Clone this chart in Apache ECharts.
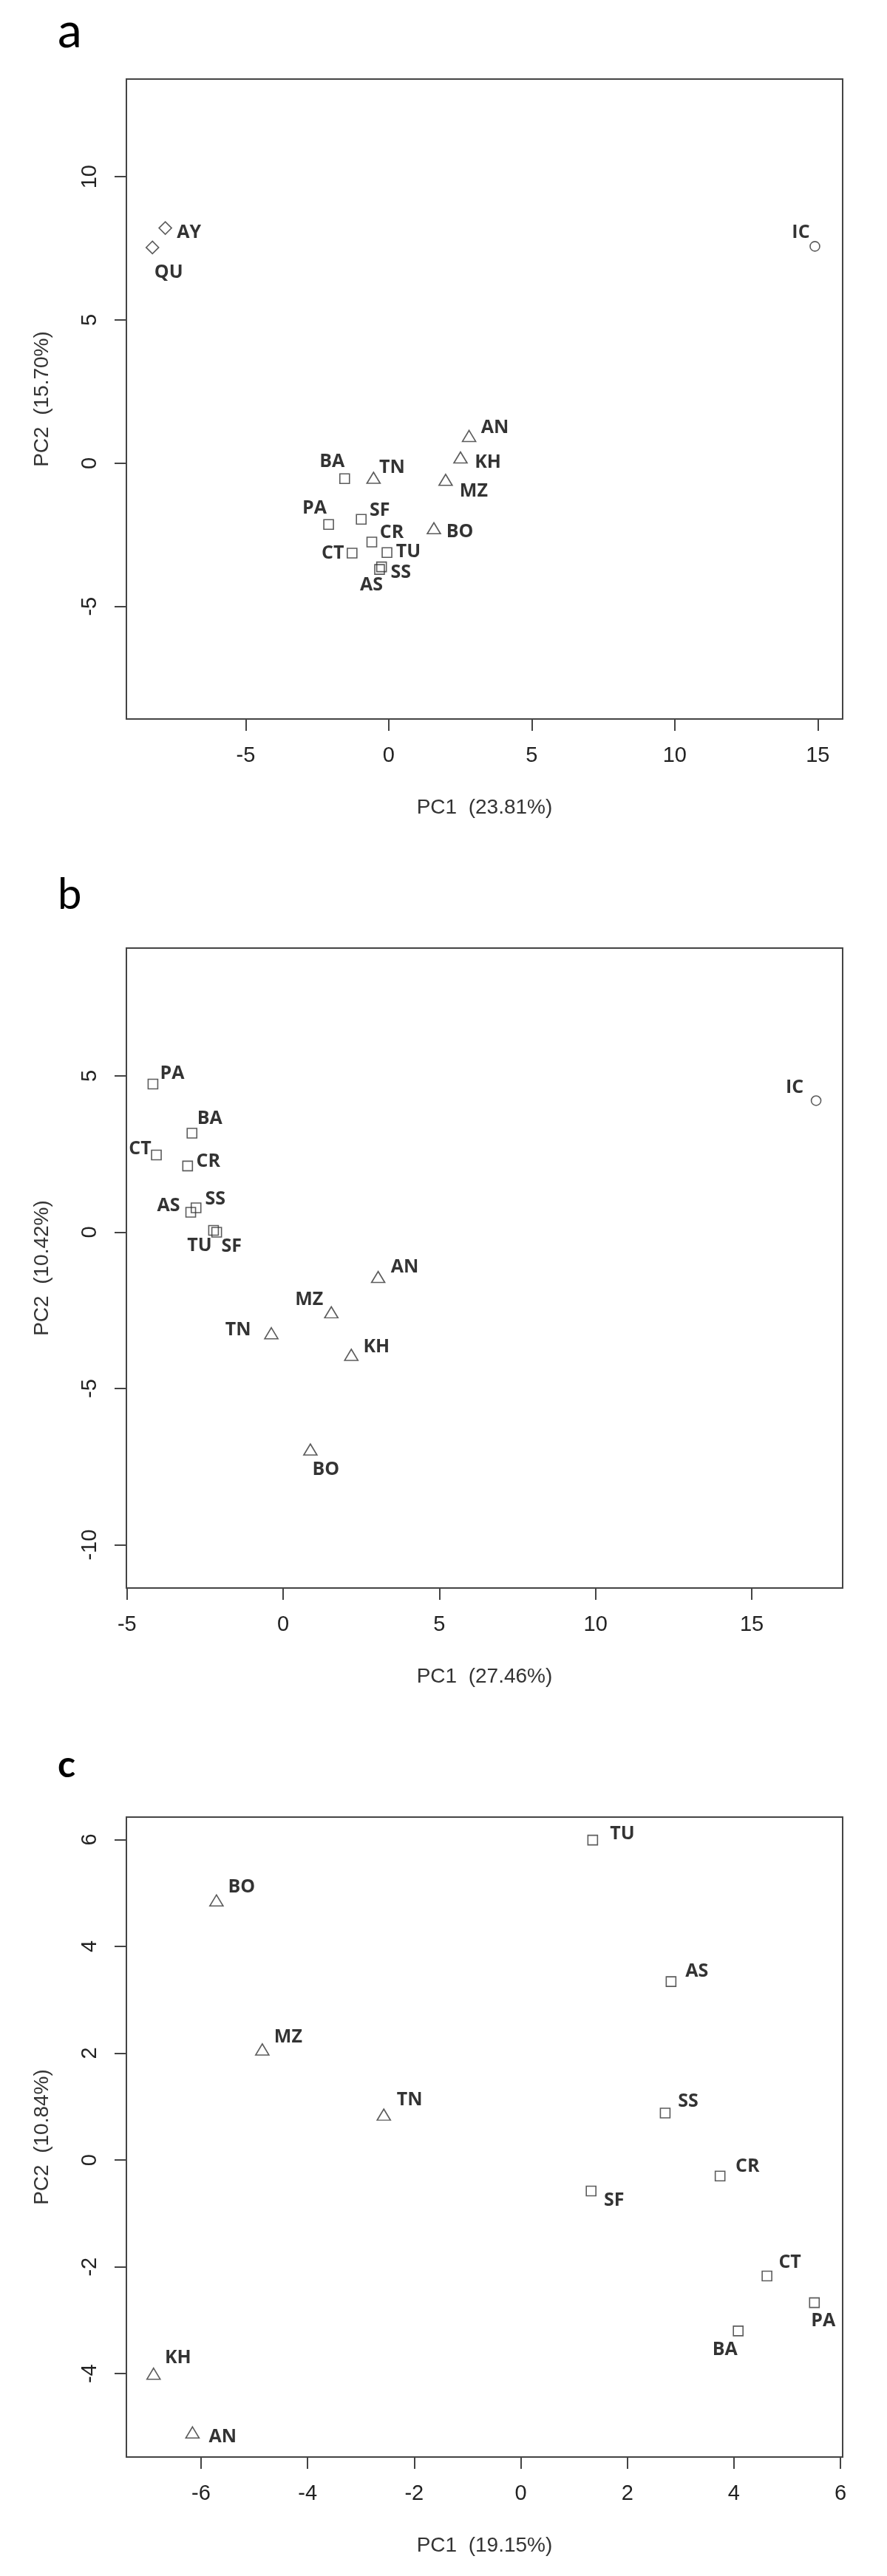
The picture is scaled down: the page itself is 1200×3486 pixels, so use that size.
<!DOCTYPE html>
<html><head><meta charset="utf-8">
<script src="https://cdn.jsdelivr.net/npm/echarts@6/dist/echarts.min.js"></script>
<style>html,body{margin:0;padding:0;background:#fff}#chart{width:1200px;height:3486px}</style>
</head><body><div id="chart"></div>
<script>
// ---------- Panel a ----------
const namesA = ['AY','QU','IC','AN','KH','MZ','TN','BO','BA','PA','SF','CR','CT','TU','SS','AS'];
const groupA = ['diamond','diamond','circle','triangle','triangle','triangle','triangle','triangle','square','square','square','square','square','square','square','square'];
const pc1A = [-7.81,-8.26,14.90,2.81,2.51,1.99,-0.53,1.58,-1.54,-2.10,-0.96,-0.59,-1.28,-0.06,-0.25,-0.32];
const pc2A = [8.21,7.53,7.57,0.95,0.20,-0.58,-0.51,-2.27,-0.54,-2.14,-1.96,-2.75,-3.14,-3.12,-3.62,-3.71];
const xTicksA = [-5,0,5,10,15];
const yTicksA = [-5,0,5,10];
const xNameA = 'PC1  (23.81%)';
const yNameA = 'PC2  (15.70%)';

// ---------- Panel b ----------
const namesB = ['PA','BA','CT','CR','SS','AS','TU','SF','AN','MZ','TN','KH','BO','IC'];
const groupB = ['square','square','square','square','square','square','square','square','triangle','triangle','triangle','triangle','triangle','circle'];
const pc1B = [-4.17,-2.92,-4.06,-3.06,-2.79,-2.96,-2.23,-2.13,3.04,1.54,-0.38,2.18,0.87,17.06];
const pc2B = [4.74,3.17,2.47,2.12,0.78,0.64,0.06,0.00,-1.43,-2.56,-3.23,-3.92,-6.95,4.21];
const xTicksB = [-5,0,5,10,15];
const yTicksB = [-10,-5,0,5];
const xNameB = 'PC1  (27.46%)';
const yNameB = 'PC2  (10.42%)';

// ---------- Panel c ----------
const namesC = ['TU','BO','AS','MZ','TN','SS','CR','SF','CT','PA','BA','KH','AN'];
const groupC = ['square','triangle','square','triangle','triangle','square','square','square','square','square','square','triangle','triangle'];
const pc1C = [1.35,-5.71,2.82,-4.85,-2.57,2.71,3.74,1.32,4.62,5.51,4.08,-6.89,-6.16];
const pc2C = [5.99,4.86,3.34,2.07,0.85,0.88,-0.30,-0.58,-2.17,-2.67,-3.20,-4.00,-5.10];
const xTicksC = [-6,-4,-2,0,2,4,6];
const yTicksC = [-4,-2,0,2,4,6];
const xNameC = 'PC1  (19.15%)';
const yNameC = 'PC2  (10.84%)';

const panelLetters = ['a','b','c'];

// ---------- layout (not data) ----------
const axisRanges = [
  {x:[-9.17,15.87], y:[-8.93,13.41]},
  {x:[-5.02,17.91], y:[-11.38,9.09]},
  {x:[-7.40,6.04],  y:[-5.56,6.42]}
];
const gridTops = [107, 1283, 2459];
const GRID_LEFT = 171, GRID_W = 969, GRID_H = 866;

const labelOffsets = [
  {AY:[32,6],QU:[22,34],IC:[-19,-19],AN:[35,-11],KH:[37,7],MZ:[38,16],TN:[25,-14],BO:[35,5],BA:[-17,-23],PA:[-19,-22],SF:[25,-12],CR:[27,-13],CT:[-26,0],TU:[29,-1],SS:[26,8],AS:[-11,21]},
  {PA:[26,-14],BA:[24,-20],CT:[-22,-8],CR:[28,-6],SS:[26,-12],AS:[-30,-9],TU:[-19,21],SF:[20,19],AN:[36,-13],MZ:[-30,-17],TN:[-45,-4],KH:[34,-11],BO:[21,27],IC:[-29,-18]},
  {TU:[40,-8],BO:[34,-18],AS:[35,-14],MZ:[35,-17],TN:[35,-20],SS:[31,-16],CR:[37,-13],SF:[31,13],CT:[31,-18],PA:[12,25],BA:[-18,25],KH:[33,-21],AN:[41,6]}
];

const symbolMap = {
  square:   {symbol:'rect', size:13},
  triangle: {symbol:'triangle', size:[18,15]},
  diamond:  {symbol:'diamond', size:[17,17]},
  circle:   {symbol:'circle', size:13}
};

const panels = [
  {names:namesA, g:groupA, x:pc1A, y:pc2A, xt:xTicksA, yt:yTicksA, xn:xNameA, yn:yNameA},
  {names:namesB, g:groupB, x:pc1B, y:pc2B, xt:xTicksB, yt:yTicksB, xn:xNameB, yn:yNameB},
  {names:namesC, g:groupC, x:pc1C, y:pc2C, xt:xTicksC, yt:yTicksC, xn:xNameC, yn:yNameC}
];

const chart = echarts.init(document.getElementById('chart'), null, {renderer:'canvas', width:1200, height:3486});

const grid = [], xAxis = [], yAxis = [], series = [];
const lineCol = '#444';
const tickFont = {fontFamily:'"Liberation Sans", Arial, sans-serif', fontSize:29, color:'#222'};
const nameFont = {fontFamily:'"Liberation Sans", Arial, sans-serif', fontSize:28, color:'#333'};

panels.forEach((p, i) => {
  grid.push({left:GRID_LEFT, top:gridTops[i], width:GRID_W, height:GRID_H, show:true, borderColor:lineCol, borderWidth:2, backgroundColor:'transparent', containLabel:false});
  xAxis.push({
    type:'value', gridIndex:i, min:axisRanges[i].x[0], max:axisRanges[i].x[1],
    axisLine:{show:true, onZero:false, lineStyle:{color:lineCol, width:2}},
    axisTick:{show:true, length:16, lineStyle:{color:lineCol, width:2}, customValues:p.xt},
    axisLabel:Object.assign({show:true, margin:35, customValues:p.xt, showMinLabel:true, showMaxLabel:true}, tickFont),
    splitLine:{show:false},
    name:p.xn, nameLocation:'middle', nameGap:106, nameTextStyle:nameFont
  });
  yAxis.push({
    type:'value', gridIndex:i, min:axisRanges[i].y[0], max:axisRanges[i].y[1],
    axisLine:{show:true, onZero:false, lineStyle:{color:lineCol, width:2}},
    axisTick:{show:true, length:16, lineStyle:{color:lineCol, width:2}, customValues:p.yt},
    axisLabel:Object.assign({show:true, margin:35, rotate:90, customValues:p.yt, showMinLabel:true, showMaxLabel:true}, tickFont),
    splitLine:{show:false},
    name:p.yn, nameLocation:'middle', nameGap:100, nameTextStyle:nameFont
  });
  const data = p.names.map((n, k) => {
    const s = symbolMap[p.g[k]];
    return {
      name:n, value:[p.x[k], p.y[k]],
      symbol:s.symbol, symbolSize:s.size,
      label:{show:true, formatter:n, position:'inside', offset:labelOffsets[i][n] || [25,0],
        fontFamily:'"Open Sans", Lato, sans-serif', fontWeight:'bold', fontSize:25, color:'#000', align:'center', verticalAlign:'middle'}
    };
  });
  series.push({
    type:'scatter', xAxisIndex:i, yAxisIndex:i, data:data,
    itemStyle:{color:'rgba(0,0,0,0)', borderColor:'#333', borderWidth:1.6},
    emphasis:{disabled:true}, silent:true
  });
});

const letterStyles = [
  {x:78, y:50, font:'normal 66px Lato, sans-serif'},
  {x:78, y:1222, font:'normal 58px Lato, sans-serif'},
  {x:78, y:2404, font:'bold 50px Lato, sans-serif'}
];
const graphic = panelLetters.map((t, i) => ({
  type:'text', left:letterStyles[i].x, top:letterStyles[i].y - 40,
  style:{text:t, font:letterStyles[i].font, fill:'#000'}
}));

chart.setOption({
  animation:false,
  backgroundColor:'#fff',
  grid, xAxis, yAxis, series, graphic
});
</script>
</body></html>
